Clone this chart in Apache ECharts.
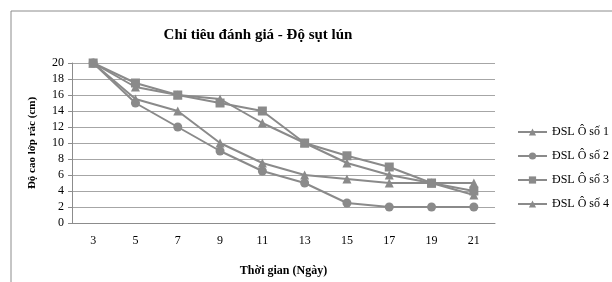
<!DOCTYPE html>
<html>
<head>
<meta charset="utf-8">
<script src="https://cdn.jsdelivr.net/npm/echarts@6/dist/echarts.min.js"></script>
<style>
  html, body { margin: 0; padding: 0; background: #fff; }
  #chart { width: 612px; height: 282px; }
</style>
</head>
<body>
<div id="chart"></div>
<script>
// ngay quan trac
var days = ['3', '5', '7', '9', '11', '13', '15', '17', '19', '21'];

// do sut lun tung o (cm)
var o1 = [20, 17, 16, 15.5, 12.5, 10, 7.5, 6, 5, 3.5];
var o2 = [20, 15, 12, 9, 6.5, 5, 2.5, 2, 2, 2];
var o3 = [20, 17.5, 16, 15, 14, 10, 8.4, 7, 5, 4];
var o4 = [20, 15.5, 14, 10, 7.5, 6, 5.5, 5, 5, 5];

var names = ['ĐSL Ô số 1', 'ĐSL Ô số 2', 'ĐSL Ô số 3', 'ĐSL Ô số 4'];
var symbols = ['triangle', 'circle', 'rect', 'triangle'];

var gray = '#8a8a8a';
var serif = '"Liberation Serif", "Times New Roman", serif';

var chart = echarts.init(document.getElementById('chart'));

var series = [o1, o2, o3, o4].map(function (d, i) {
  return {
    name: names[i],
    type: 'line',
    data: d,
    symbol: symbols[i],
    symbolSize: 9,
    lineStyle: { color: gray, width: 2 },
    itemStyle: { color: gray },
    animation: false
  };
});

chart.setOption({
  textStyle: { fontFamily: serif, color: '#000' },
  graphic: [{
    type: 'rect',
    shape: { x: 11, y: 11, width: 700, height: 400 },
    style: { fill: 'none', stroke: '#8c8c8c', lineWidth: 1 },
    silent: true
  }],
  title: {
    text: 'Chỉ tiêu đánh giá - Độ sụt lún',
    left: 253,
    textAlign: 'center',
    top: 23,
    textStyle: { fontFamily: serif, fontSize: 15, fontWeight: 'bold', color: '#000' }
  },
  legend: {
    orient: 'vertical',
    left: 512,
    top: 121,
    itemWidth: 29,
    itemHeight: 9,
    itemGap: 12,
    data: names,
    textStyle: { fontFamily: serif, fontSize: 12, color: '#000' }
  },
  grid: { left: 72, right: 117, top: 63, bottom: 59 },
  xAxis: {
    type: 'category',
    data: days,
    boundaryGap: true,
    name: 'Thời gian (Ngày)',
    nameLocation: 'middle',
    nameGap: 42,
    nameTextStyle: { fontFamily: serif, fontSize: 12, fontWeight: 'bold', color: '#000' },
    axisLine: { lineStyle: { color: '#8c8c8c' } },
    axisTick: { show: false },
    axisLabel: { fontFamily: serif, fontSize: 12, color: '#000', margin: 12 }
  },
  yAxis: {
    type: 'value',
    min: 0,
    max: 20,
    interval: 2,
    name: 'Độ cao lớp rác (cm)',
    nameLocation: 'middle',
    nameGap: 34,
    nameTextStyle: { fontFamily: serif, fontSize: 11, fontWeight: 'bold', color: '#000' },
    axisLine: { show: true, lineStyle: { color: '#8c8c8c' } },
    axisTick: { show: true, length: 4, lineStyle: { color: '#8c8c8c' } },
    axisLabel: { fontFamily: serif, fontSize: 12, color: '#000', margin: 8 },
    splitLine: { lineStyle: { color: '#a6a6a6' } }
  },
  series: series
});
</script>
</body>
</html>
